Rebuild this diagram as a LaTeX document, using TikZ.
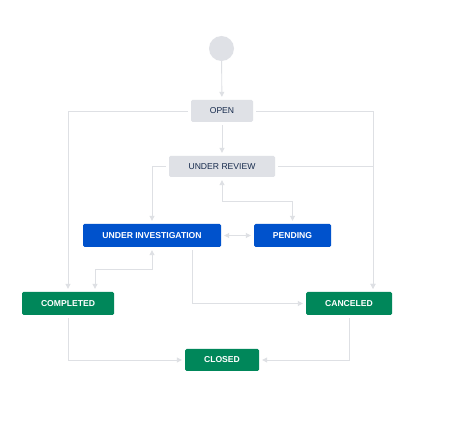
\documentclass[tikz,border=0pt]{standalone}
\usepackage{fontspec}
\setmainfont{Liberation Sans}
\usepackage{xcolor,tikz}
\usetikzlibrary{calc,positioning,arrows.meta}
\definecolor{boxgrey}{RGB}{223,225,230}
\definecolor{textgrey}{RGB}{23,43,77}
\definecolor{jiblue}{RGB}{0,82,204}
\definecolor{jigreen}{RGB}{0,135,90}
\definecolor{linegrey}{RGB}{222,224,228}
\tikzset{>={Triangle[length=5pt,width=5pt]}}
\tikzset{
  state/.style={rectangle, rounded corners=1.5pt, inner sep=0pt, minimum height=22pt, font=\fontsize{8.6}{10}\selectfont},
  todo/.style={state, fill=boxgrey, text=textgrey},
  doing/.style={state, fill=jiblue, text=white, font=\fontsize{8.6}{10}\selectfont\bfseries},
  done/.style={state, fill=jigreen, text=white, font=\fontsize{8.6}{10}\selectfont\bfseries},
  flow/.style={draw=linegrey, line width=0.9pt, shorten >=3pt, shorten <=3pt},
}

\begin{document}
\begin{tikzpicture}[x=1pt,y=-1pt]
\useasboundingbox[fill=white] (0,0) rectangle (464,425);
\node[circle, fill=boxgrey, minimum size=25pt, inner sep=0pt] (start) at (221.5,48.5) {};
\node[todo, minimum width=62pt] (open) at (222,111) {OPEN};
\node[todo, minimum width=106pt, minimum height=21pt] (review) at (222,166.5) {UNDER REVIEW};
\node[doing, minimum width=138pt, minimum height=23pt] (inv) at (152,235.5) {UNDER INVESTIGATION};
\node[doing, minimum width=77pt, minimum height=23pt] (pending) at (292.5,235.5) {PENDING};
\node[done, minimum width=92pt, minimum height=23pt] (completed) at (68,303.5) {COMPLETED};
\node[done, minimum width=86pt, minimum height=23pt] (canceled) at (349,303.5) {CANCELED};
\node[done, minimum width=74pt] (closed) at (222,360) {CLOSED};
\coordinate (rightlane) at ([xshift=24pt]canceled.north);
\draw[flow, ->, shorten <=0pt] (start) -- (open);
\draw[flow, ->] (open) -- (review);
\draw[flow, ->] (open.west) -| (completed.north);
\draw[flow, ->] (open.east) -| (rightlane);
\draw[flow, ->] (review.east) -| (rightlane);
\draw[flow, ->] (review.west) -| (inv.north);
\draw[flow, <->] (review.south) -- ($(review.south)!0.53!(review.south |- pending.north)$) -| (pending.north);
\draw[flow, <->] (inv.east) -- (pending.west);
\draw[flow, <->] (inv.south) -- ($(inv.south)!0.5!(inv.south |- completed.north)$) -| ([xshift=27pt]completed.north);
\draw[flow, ->] ([xshift=40pt]inv.south) |- (canceled.west);
\draw[flow, ->] (completed.south) |- (closed.west);
\draw[flow, ->] (canceled.south) |- (closed.east);
\end{tikzpicture}
\end{document}
